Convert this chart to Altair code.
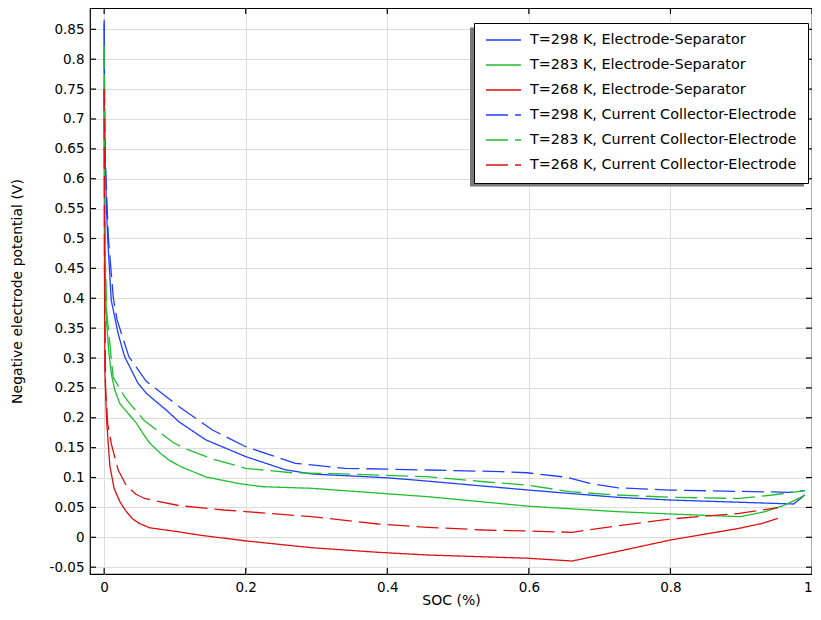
import altair as alt
import pandas as pd

# ---------------- data ----------------
series_names = [
    "T=298 K, Electrode-Separator",
    "T=283 K, Electrode-Separator",
    "T=268 K, Electrode-Separator",
    "T=298 K, Current Collector-Electrode",
    "T=283 K, Current Collector-Electrode",
    "T=268 K, Current Collector-Electrode",
]
series_colors = ["#1f3fff", "#1fbf2f", "#dd1111", "#1f3fff", "#1fbf2f", "#dd1111"]
series_dashes = [[1, 0], [1, 0], [1, 0], [22, 7], [22, 7], [22, 7]]

soc_298_es = [0, 0.0005, 0.0012, 0.003, 0.005, 0.010, 0.0197, 0.029, 0.0477, 0.0595, 0.0876, 0.106,
              0.1437, 0.2, 0.256, 0.293, 0.401, 0.457, 0.6, 0.724, 0.8, 0.974, 0.99]
v_298_es = [0.866, 0.72, 0.65, 0.56, 0.50, 0.397, 0.341, 0.302, 0.258, 0.241, 0.213, 0.193,
            0.163, 0.135, 0.113, 0.106, 0.0995, 0.094, 0.079, 0.067, 0.0624, 0.0557, 0.071]

soc_283_es = [0, 0.0006, 0.0015, 0.0034, 0.0066, 0.0104, 0.015, 0.022, 0.0337, 0.0455, 0.057, 0.064,
              0.08, 0.092, 0.1086, 0.1437, 0.19, 0.223, 0.293, 0.457, 0.6, 0.724, 0.8, 0.899,
              0.934, 0.958, 0.976, 0.99]
v_283_es = [0.826, 0.60, 0.45, 0.36, 0.31, 0.272, 0.2465, 0.224, 0.2075, 0.191, 0.17, 0.158,
            0.14, 0.129, 0.118, 0.101, 0.090, 0.0847, 0.082, 0.068, 0.052, 0.043, 0.039, 0.0345,
            0.043, 0.0524, 0.062, 0.0708]

soc_268_es = [0, 0.0005, 0.001, 0.0034, 0.008, 0.014, 0.022, 0.03, 0.04, 0.05, 0.064, 0.104,
              0.134, 0.2, 0.293, 0.387, 0.457, 0.6, 0.661, 0.724, 0.8, 0.897, 0.93, 0.952]
v_268_es = [0.75, 0.45, 0.28, 0.196, 0.12, 0.082, 0.06, 0.045, 0.031, 0.023, 0.016, 0.0094,
            0.0038, -0.006, -0.0174, -0.0251, -0.0296, -0.0351, -0.0397, -0.024, -0.0045, 0.015,
            0.0234, 0.0318]

soc_298_cce = [0, 0.0008, 0.002, 0.006, 0.013, 0.018, 0.0244, 0.035, 0.0595, 0.106, 0.153, 0.2,
               0.27, 0.34, 0.457, 0.56, 0.597, 0.654, 0.686, 0.724, 0.8, 0.967, 0.99]
v_298_cce = [0.86, 0.70, 0.62, 0.50, 0.40, 0.365, 0.341, 0.302, 0.261, 0.2185, 0.1796, 0.1516,
             0.1238, 0.1155, 0.1126, 0.11, 0.108, 0.1004, 0.0903, 0.083, 0.079, 0.0753, 0.078]

soc_283_cce = [0, 0.0006, 0.0015, 0.0034, 0.0126, 0.029, 0.036, 0.057, 0.08, 0.097, 0.113, 0.153,
               0.2, 0.265, 0.34, 0.457, 0.537, 0.597, 0.658, 0.724, 0.8, 0.897, 0.944, 0.99]
v_283_cce = [0.82, 0.62, 0.48, 0.38, 0.268, 0.235, 0.224, 0.195, 0.174, 0.159, 0.149, 0.131,
             0.1155, 0.108, 0.106, 0.1014, 0.093, 0.0875, 0.0763, 0.0708, 0.067, 0.065, 0.0708, 0.078]

soc_268_cce = [0, 0.0005, 0.002, 0.005, 0.0104, 0.0197, 0.031, 0.045, 0.057, 0.106, 0.169, 0.2,
               0.293, 0.387, 0.457, 0.537, 0.6, 0.661, 0.724, 0.8, 0.897, 0.952]
v_268_cce = [0.75, 0.45, 0.25, 0.19, 0.155, 0.113, 0.087, 0.072, 0.065, 0.053, 0.0457, 0.043,
             0.0345, 0.0223, 0.0167, 0.0122, 0.0105, 0.0084, 0.019, 0.0306, 0.040, 0.0495]

x_ticks = [0, 0.2, 0.4, 0.6, 0.8, 1.0]
y_ticks = [-0.05, 0, 0.05, 0.1, 0.15, 0.2, 0.25, 0.3, 0.35, 0.4, 0.45, 0.5, 0.55, 0.6,
           0.65, 0.7, 0.75, 0.8, 0.85]

# ---------------- build table ----------------
all_x = [soc_298_es, soc_283_es, soc_268_es, soc_298_cce, soc_283_cce, soc_268_cce]
all_y = [v_298_es, v_283_es, v_268_es, v_298_cce, v_283_cce, v_268_cce]
rows = []
for name, xs, ys in zip(series_names, all_x, all_y):
    for i, (a, b) in enumerate(zip(xs, ys)):
        rows.append({"series": name, "soc": a, "v": b, "order": i})
df = pd.DataFrame(rows)

W, H = 722, 566
FONT = "DejaVu Sans"

xscale = alt.Scale(domain=[-0.02, 1.0], nice=False, zero=False)
yscale = alt.Scale(domain=[-0.0614, 0.8857], nice=False, zero=False)

label_expr = "toString(round(datum.value*100)/100)"
xaxis = alt.Axis(values=x_ticks, labelExpr=label_expr, title="SOC (%)", ticks=False, tickSize=0,
                 domain=False, grid=True, gridColor="#dcdcdc", gridWidth=1,
                 labelFont=FONT, labelFontSize=13.5, labelColor="black", labelPadding=6,
                 labelFlush=1, labelOverlap=False,
                 titleFont=FONT, titleFontSize=14, titleFontWeight="normal", titleColor="black",
                 titlePadding=0)
yaxis = alt.Axis(values=y_ticks, labelExpr=label_expr, title="Negative electrode potential (V)",
                 ticks=False, tickSize=0, domain=False, grid=True, gridColor="#dcdcdc", gridWidth=1,
                 labelFont=FONT, labelFontSize=13.5, labelColor="black", labelPadding=6,
                 labelFlush=False, labelOverlap=False,
                 titleFont=FONT, titleFontSize=14, titleFontWeight="normal", titleColor="black",
                 titlePadding=25)

legend = alt.Legend(
    title=None, orient="none", legendX=384, legendY=15,
    symbolType="stroke", symbolSize=1225, symbolStrokeWidth=1.3,
    labelFont=FONT, labelFontSize=14.4, labelColor="black", labelOffset=8, labelLimit=500,
    padding=11, rowPadding=10, clipHeight=12,
    strokeColor="black", fillColor="white",
)

lines = alt.Chart(df).mark_line(strokeWidth=1.3, clip=True).encode(
    x=alt.X("soc:Q", scale=xscale, axis=xaxis),
    y=alt.Y("v:Q", scale=yscale, axis=yaxis),
    color=alt.Color("series:N", scale=alt.Scale(domain=series_names, range=series_colors),
                    legend=legend),
    strokeDash=alt.StrokeDash("series:N", scale=alt.Scale(domain=series_names, range=series_dashes),
                              legend=legend),
    order="order:Q",
)

xt = pd.DataFrame({"soc": x_ticks})
yt = pd.DataFrame({"v": y_ticks})
tick_len = 6
bottom_ticks = alt.Chart(xt).mark_rule(color="black", strokeWidth=1.2).encode(
    x=alt.X("soc:Q", scale=xscale, axis=xaxis), y=alt.value(H - tick_len), y2=alt.value(H))
top_ticks = alt.Chart(xt).mark_rule(color="black", strokeWidth=1.2).encode(
    x=alt.X("soc:Q", scale=xscale, axis=xaxis), y=alt.value(0), y2=alt.value(tick_len))
left_ticks = alt.Chart(yt).mark_rule(color="black", strokeWidth=1.2).encode(
    y=alt.Y("v:Q", scale=yscale, axis=yaxis), x=alt.value(0), x2=alt.value(tick_len))
right_ticks = alt.Chart(yt).mark_rule(color="black", strokeWidth=1.2).encode(
    y=alt.Y("v:Q", scale=yscale, axis=yaxis), x=alt.value(W - tick_len), x2=alt.value(W))

shadow = alt.Chart(pd.DataFrame({"a": [0]})).mark_rect(color="#7a7a7a").encode(
    x=alt.value(380), x2=alt.value(714), y=alt.value(19.5), y2=alt.value(178.5))

chart = alt.layer(lines, bottom_ticks, top_ticks, left_ticks, right_ticks, shadow).properties(
    width=W, height=H,
    autosize=alt.AutoSizeParams(type="none"),
    padding={"left": 82, "top": 0, "right": 0, "bottom": 34},
).configure_view(stroke="black", strokeWidth=1.2)

chart.save("out.html", embed_options={"renderer": "svg", "actions": False})
